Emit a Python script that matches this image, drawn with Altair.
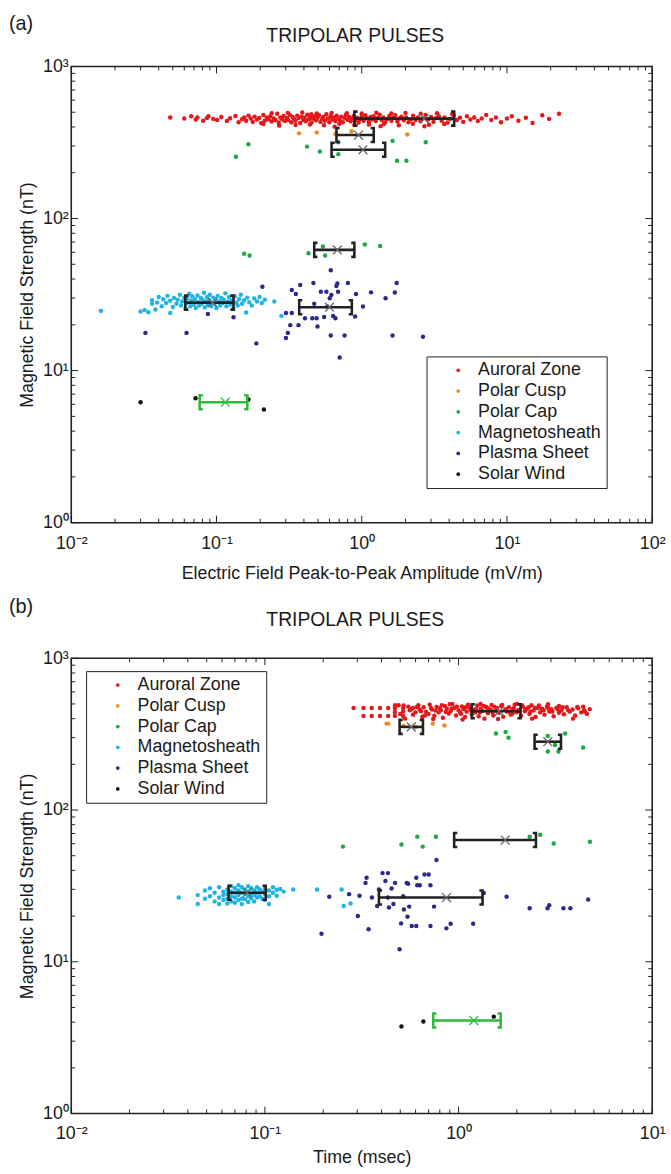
import altair as alt
import pandas as pd

REGIONS = ["Auroral Zone", "Polar Cusp", "Polar Cap", "Magnetosheath", "Plasma Sheet", "Solar Wind"]
COLORS = ["#e4171b", "#f08a24", "#1fa843", "#20b4e2", "#2b2a8c", "#111111"]

# ---------------- panel (a): E-field peak-to-peak amplitude (mV/m) vs B (nT)
A_AUR_E = [0.048,0.060,0.067,0.072,0.074,0.081,0.086,0.088,0.095,0.101,
           0.108,0.118,0.124,0.135,0.142,0.150,0.155,0.160,0.166,0.172,
           0.178,0.183,0.190,0.197,0.203,0.210,0.215,0.222,0.228,0.235,
           0.240,0.248,0.255,0.262,0.268,0.275,0.283,0.290,0.296,0.305,
           0.312,0.320,0.328,0.335,0.342,0.350,0.360,0.368,0.377,0.385,
           0.395,0.404,0.412,0.422,0.432,0.441,0.452,0.462,0.474,0.485,
           0.496,0.508,0.520,0.533,0.545,0.558,0.571,0.585,0.598,0.612,
           0.627,0.642,0.657,0.673,0.690,0.706,0.723,0.741,0.760,0.778,
           0.797,0.818,0.838,0.860,0.881,0.905,0.928,0.952,0.976,1.00,
           1.03,1.06,1.09,1.12,1.15,1.18,1.21,1.25,1.29,1.33,
           1.37,1.41,1.45,1.50,1.55,1.60,1.65,1.70,1.76,1.82,
           1.88,1.95,2.02,2.10,2.18,2.26,2.35,2.44,2.54,2.64,
           2.75,2.87,3.00,3.12,3.26,3.40,3.55,3.72,3.90,4.08,
           4.30,4.52,4.75,5.00,5.30,5.60,5.95,6.30,6.70,7.20,
           7.80,8.40,9.10,10.0,10.8,12.0,13.5,15.0,17.5,19.5,
           22.8,
           0.21,0.24,0.27,0.31,0.35,0.39,0.44,0.49,0.55,0.62,
           0.70,0.79,0.89,1.0,1.12,1.26,1.42,1.6,1.8,2.0,
           2.25,2.55,2.9,3.3,3.7,4.2,0.65,1.35,2.7,0.45]
A_AUR_B = [462,455,470,448,462,440,458,470,452,444,
           465,438,456,472,430,450,462,440,475,455,
           432,468,447,458,425,480,440,462,450,470,
           435,455,445,488,428,462,450,472,438,458,
           445,480,430,465,452,440,475,458,425,468,
           445,460,436,482,450,465,428,455,470,442,
           460,478,432,452,466,440,485,455,430,470,
           448,462,438,475,455,444,468,430,458,480,
           446,465,436,455,472,442,460,428,450,468,
           440,478,455,432,465,448,470,438,458,482,
           444,462,430,452,472,440,460,478,435,455,
           468,442,462,430,450,475,445,462,436,455,
           480,448,465,432,458,470,440,462,428,452,
           475,445,460,432,470,448,462,438,455,480,
           445,462,430,455,470,440,460,425,478,452,
           488,
           418,492,408,495,412,498,415,490,410,495,
           420,492,412,490,415,496,418,490,410,494,
           420,488,414,492,418,486,402,405,404,485]
A_CUSP_E = [0.37, 0.49, 0.66, 0.85, 2.06]
A_CUSP_B = [363, 368, 360, 375, 357]
A_CAP_E = [0.166, 0.136, 0.42, 0.515, 0.69, 0.69, 1.63, 1.75, 2.03, 2.76,
           0.155, 0.169, 0.43, 0.54, 0.56, 1.05, 1.34]
A_CAP_B = [308, 255, 297, 276, 317, 265, 324, 240, 240, 317,
           58.6, 57.1, 59.1, 65.5, 57.1, 67.5, 66.0]
A_SHEATH_E = [0.016,0.030,0.032,0.034,0.036,0.036,0.038,0.039,0.040,0.042,
              0.043,0.045,0.046,0.048,0.048,0.050,0.051,0.053,0.054,0.056,
              0.057,0.058,0.060,0.061,0.062,0.063,0.065,0.066,0.067,0.068,
              0.070,0.071,0.072,0.074,0.075,0.076,0.078,0.079,0.080,0.082,
              0.083,0.084,0.086,0.087,0.089,0.090,0.092,0.093,0.095,0.097,
              0.098,0.100,0.102,0.104,0.106,0.108,0.110,0.112,0.115,0.117,
              0.120,0.122,0.125,0.128,0.131,0.134,0.137,0.140,0.143,0.147,
              0.150,0.155,0.160,0.163,0.168,0.175,0.182,0.190,0.198,0.205,
              0.215,0.25,0.28]
A_SHEATH_B = [24.7,24.5,25.0,24.2,27.5,29.0,25.2,28.0,30.5,26.5,
              29.5,27.8,31.0,23.9,28.8,26.2,30.0,27.5,29.2,31.5,
              26.8,28.5,30.2,25.5,27.8,29.8,32.0,26.5,28.8,30.8,
              27.2,29.5,25.8,31.2,28.2,26.8,30.0,27.5,29.2,32.5,
              26.0,28.5,30.5,27.0,29.0,31.5,26.5,28.0,30.2,27.5,
              29.5,25.8,31.0,28.5,26.8,30.0,27.8,29.2,32.2,26.5,
              28.5,30.5,27.2,29.0,25.5,30.8,28.0,26.8,29.5,31.5,
              27.5,29.0,24.1,30.2,28.2,26.8,29.8,28.5,30.5,27.8,
              29.2,28.5,22.9]
A_PLASMA_E = [0.0324,0.0622,0.0873,0.131,0.207,0.188,0.301,0.310,0.330,0.322,
              0.367,0.377,0.352,0.330,0.465,0.471,0.457,0.489,0.496,0.523,
              0.551,0.571,0.580,0.602,0.612,0.618,0.635,0.659,0.669,0.680,
              0.687,0.705,0.612,0.762,0.803,0.914,0.901,1.02,1.16,1.46,
              1.63,1.69,1.74,2.64,0.301,0.407]
A_PLASMA_B = [17.7,17.7,23.6,22.4,35.6,15.1,16.4,17.7,33.9,19.9,
              19.9,36.5,31.9,23.9,37.7,27.5,22.1,22.1,19.5,33.0,
              22.5,33.0,26.4,29.9,45.7,31.4,22.9,22.1,36.0,37.4,
              33.0,12.2,17.0,17.0,37.7,31.9,22.7,26.4,32.7,29.9,
              17.0,32.6,37.7,16.7,23.9,22.1]
A_SOLAR_E = [0.030, 0.0717, 0.166, 0.212]
A_SOLAR_B = [6.2, 6.58, 6.45, 5.55]

A_BAR_REGION = ["Auroral Zone", "Polar Cusp", "Polar Cap", "Polar Cap", "Magnetosheath", "Plasma Sheet", "Solar Wind"]
A_BAR_MEAN = [2.69, 0.95, 1.02, 0.68, 0.094, 0.60, 0.115]
A_BAR_LO = [0.89, 0.67, 0.62, 0.471, 0.061, 0.371, 0.0766]
A_BAR_HI = [4.33, 1.21, 1.45, 0.89, 0.131, 0.855, 0.163]
A_BAR_B = [454, 354, 283, 62.2, 28.0, 26.1, 6.2]

# ---------------- panel (b): duration (msec) vs B (nT)
B_AUR_T = [0.287,0.323,0.323,0.356,0.356,0.393,0.393,0.433,0.433,0.469,
           0.469,0.469,0.49,0.50,0.517,0.517,0.517,0.53,0.55,0.56,
           0.582,0.582,0.60,0.62,0.63,0.65,0.66,0.68,0.70,0.71,
           0.73,0.75,0.77,0.79,0.81,0.83,0.85,0.87,0.89,0.91,
           0.93,0.95,0.97,1.0,1.02,1.04,1.06,1.08,1.1,1.12,
           1.15,1.17,1.2,1.22,1.25,1.27,1.3,1.33,1.36,1.39,
           1.42,1.45,1.48,1.51,1.55,1.58,1.62,1.66,1.7,1.74,
           1.78,1.82,1.86,1.9,1.95,2.0,2.05,2.1,2.15,2.2,
           2.26,2.32,2.38,2.44,2.5,2.57,2.64,2.71,2.78,2.86,
           2.94,3.02,3.1,3.2,3.3,3.4,3.5,3.62,3.75,3.88,
           4.0,4.15,4.3,4.45,4.6,4.76,
           0.74,0.9,1.05,1.3,1.6,2.0,2.4,2.9,0.8,1.14,
           1.5,1.9,2.3,2.7,3.3,3.9,4.4,
           0.52,0.57,0.61,0.64,0.67,0.72,0.76,0.82,0.86,0.92,
           0.98,1.03,1.09,1.16,1.23,1.29,1.35,1.41,1.47,1.53,
           1.6,1.68,1.76,1.84,1.93,2.03,2.12,2.22,2.35,2.48,
           2.6,2.75,2.9,3.05,3.25,3.45,3.68,4.1,4.5,0.47]
B_AUR_B = [470,470,417,470,417,470,417,470,417,470,
           417,443,490,430,470,417,445,400,480,455,
           470,425,440,490,460,412,475,445,430,495,
           460,418,478,440,455,405,485,465,432,448,
           500,470,420,455,438,482,462,410,445,495,
           470,428,458,440,488,415,465,450,400,478,
           435,460,492,420,452,470,438,485,412,458,
           445,475,425,462,495,440,455,418,480,448,
           465,430,490,452,410,470,440,458,425,480,
           446,462,415,470,438,455,428,475,445,460,
           420,468,440,455,430,462,
           398,498,395,500,398,500,400,498,468,472,
           442,432,475,466,485,400,480,
           488,462,478,448,420,470,452,490,442,465,
           480,430,475,452,462,440,485,470,455,480,
           445,492,462,440,470,455,490,462,445,472,
           488,455,470,445,462,475,455,478,445,490]
B_CUSP_T = [0.425, 0.433, 0.736, 0.845, 0.52, 0.60]
B_CUSP_B = [371, 371, 371, 361, 358, 352]
B_CAP_T = [1.56, 1.75, 1.81, 2.89, 3.55, 2.89, 3.28, 4.40, 3.15,
           0.253, 0.507, 0.612, 0.653, 0.764, 2.33, 2.64, 3.10, 4.77]
B_CAP_B = [319, 327, 299, 308, 319, 243, 243, 258, 268,
           57.4, 59.2, 66.7, 57.4, 66.7, 66.7, 68.7, 60.2, 61.8]
B_SHEATH_T = [0.0359,0.045,0.045,0.049,0.049,0.052,0.052,0.055,0.055,0.058,
              0.058,0.058,0.061,0.061,0.061,0.064,0.064,0.064,0.064,0.067,
              0.067,0.067,0.067,0.070,0.070,0.070,0.070,0.073,0.073,0.073,
              0.073,0.076,0.076,0.076,0.076,0.079,0.079,0.079,0.082,0.082,
              0.082,0.082,0.085,0.085,0.085,0.088,0.088,0.088,0.091,0.091,
              0.091,0.094,0.094,0.097,0.097,0.100,0.100,0.100,0.105,0.105,
              0.105,0.110,0.110,0.115,0.115,0.120,0.125,0.140,0.186,0.249,
              0.255,0.277]
B_SHEATH_B = [26.5,27.5,24.0,26.0,29.5,27.0,30.5,25.0,28.5,26.5,
              31.0,24.0,29.0,27.5,25.5,30.0,28.0,26.0,24.2,31.5,
              29.0,27.0,25.0,30.5,28.5,26.5,24.5,32.0,29.5,27.5,
              25.5,31.0,28.5,26.0,24.0,30.0,28.0,25.8,31.5,29.0,
              27.0,24.8,30.5,28.0,26.2,29.5,27.5,25.0,31.0,28.5,
              26.5,30.0,27.0,29.0,26.0,30.5,28.0,25.5,29.5,27.0,
              24.0,31.0,28.5,29.8,27.2,30.2,29.0,29.9,29.9,29.9,
              23.3,24.2]
B_PLASMA_T = [0.196,0.215,0.272,0.308,0.302,0.335,0.331,0.343,0.357,0.380,
              0.388,0.405,0.432,0.419,0.432,0.437,0.451,0.461,0.470,0.496,
              0.505,0.518,0.522,0.540,0.549,0.556,0.545,0.573,0.605,0.605,
              0.612,0.631,0.667,0.701,0.716,0.716,0.747,0.769,0.865,0.910,
              1.19,1.35,1.77,2.33,2.88,2.94,3.48,3.78,4.67]
B_PLASMA_B = [15.3,26.8,27.9,27.2,20.0,35.8,33.1,16.4,26.5,23.3,
              29.9,38.4,38.4,34.1,26.5,22.8,30.4,24.0,33.1,12.1,
              17.9,27.0,22.1,33.1,32.7,23.1,19.8,17.2,17.2,35.8,
              31.9,31.9,37.6,37.6,17.2,31.9,23.1,46.9,16.6,17.8,
              17.8,28.4,26.8,22.5,22.5,23.6,22.5,22.5,25.7]
B_SOLAR_T = [0.507, 0.658, 1.52]
B_SOLAR_B = [3.74, 4.04, 4.35]

B_BAR_REGION = A_BAR_REGION
B_BAR_MEAN = [1.62, 0.570, 2.89, 1.74, 0.081, 0.866, 1.20]
B_BAR_LO = [1.17, 0.496, 2.47, 0.949, 0.0649, 0.388, 0.74]
B_BAR_HI = [2.09, 0.655, 3.38, 2.51, 0.101, 1.33, 1.65]
B_BAR_B = [447, 353, 282, 63.4, 28.5, 26.5, 4.1]

# ---------------- helpers
FONT = "Liberation Sans"
TXT = "#1a1a1a"
W, H_A, H_B = 587, 461, 460
LEFT_BRACKET = "M0.45,-1L0,-1L0,1L0.45,1"
RIGHT_BRACKET = "M-0.45,-1L0,-1L0,1L-0.45,1"
X_MARK = "M-1,-1L1,1M1,-1L-1,1"
POW_EXPR = ("datum.value < 0.05 ? '10⁻²' : datum.value < 0.5 ? '10⁻¹' : "
            "datum.value < 5 ? '10⁰' : datum.value < 50 ? '10¹' : "
            "datum.value < 500 ? '10²' : '10³'")


def points_frame(series):
    frames = []
    for region, xs, ys in series:
        frames.append(pd.DataFrame({"x": xs, "y": ys, "region": region}))
    return pd.concat(frames, ignore_index=True)


def bars_frame(regions, mean, lo, hi, b):
    return pd.DataFrame({"region": regions, "mean": mean, "lo": lo, "hi": hi, "b": b})


def minor(decades):
    return [m * 10.0 ** k for k in decades for m in range(2, 10)]


def panel(pts, bars, xdom, xmajor, xminor, xtitle, tag, legend_xy, H, title_y, tag_y,
          xlabel_pad, xtitle_pad):
    xs = alt.Scale(type="log", domain=xdom, nice=False)
    ys = alt.Scale(type="log", domain=[1, 1000], nice=False)
    ymajor = [1, 10, 100, 1000]
    yminor = minor([0, 1, 2])
    xaxis = alt.Axis(values=xmajor, labelExpr=POW_EXPR, ticks=False, domain=False, grid=False,
                     labelFlush=False, labelOverlap=False, labelPadding=xlabel_pad, labelFontSize=18,
                     labelColor=TXT, title=xtitle, titleFontSize=18, titleFontWeight="normal",
                     titleColor=TXT, titlePadding=xtitle_pad)
    yaxis = alt.Axis(values=ymajor, labelExpr=POW_EXPR, ticks=False, domain=False, grid=False,
                     labelFlush=False, labelOverlap=False, labelPadding=3, labelFontSize=18,
                     labelColor=TXT, title="Magnetic Field Strength (nT)", titleFontSize=18,
                     titleFontWeight="normal", titleColor=TXT, titlePadding=6)

    def X(field):
        return alt.X(field, type="quantitative", scale=xs, axis=xaxis)

    def Y(field):
        return alt.Y(field, type="quantitative", scale=ys, axis=yaxis)

    legend = alt.Legend(title=None, orient="none", legendX=legend_xy[0], legendY=legend_xy[1],
                        symbolType="circle", symbolSize=14, symbolStrokeWidth=0,
                        labelFontSize=18, labelFont=FONT, labelColor=TXT,
                        strokeColor="#222", fillColor="white", padding=5, rowPadding=3,
                        symbolOffset=18, labelOffset=11, cornerRadius=0)
    scatter = alt.Chart(pts).mark_circle(size=20, opacity=1).encode(
        x=X("x"), y=Y("y"),
        color=alt.Color("region:N", scale=alt.Scale(domain=REGIONS, range=COLORS), legend=legend),
    )
    layers = [scatter]
    for cond, col in (("datum.region != 'Solar Wind'", "#222222"), ("datum.region == 'Solar Wind'", "#2dbb3c")):
        base = alt.Chart(bars).transform_filter(cond)
        layers.append(base.mark_rule(color=col, strokeWidth=2.6).encode(
            x=X("lo"), x2="hi:Q", y=Y("b")))
        layers.append(base.mark_point(shape=LEFT_BRACKET, size=200, filled=False, strokeWidth=2.6,
                                      color=col, opacity=1).encode(x=X("lo"), y=Y("b")))
        layers.append(base.mark_point(shape=RIGHT_BRACKET, size=200, filled=False, strokeWidth=2.6,
                                      color=col, opacity=1).encode(x=X("hi"), y=Y("b")))
        layers.append(base.mark_point(shape=X_MARK, size=80, filled=False, strokeWidth=1.3,
                                      color="#666666" if col == "#222222" else col, opacity=1).encode(
            x=X("mean"), y=Y("b")))
    # MATLAB-style inward ticks on all four sides
    for vals, L in ((xmajor, 7), (xminor, 4)):
        d = alt.Chart(pd.DataFrame({"x": vals})).mark_rule(color="#222", strokeWidth=1)
        layers.append(d.encode(x=X("x"), y=alt.value(H), y2=alt.value(H - L)))
        layers.append(d.encode(x=X("x"), y=alt.value(0), y2=alt.value(L)))
    for vals, L in ((ymajor, 7), (yminor, 4)):
        d = alt.Chart(pd.DataFrame({"y": vals})).mark_rule(color="#222", strokeWidth=1)
        layers.append(d.encode(y=Y("y"), x=alt.value(0), x2=alt.value(L)))
        layers.append(d.encode(y=Y("y"), x=alt.value(W), x2=alt.value(W - L)))
    layers.append(alt.Chart(pd.DataFrame({"t": ["TRIPOLAR PULSES"]})).mark_text(
        fontSize=19.5, align="center", baseline="middle", color=TXT).encode(
        text="t:N", x=alt.value(287), y=alt.value(title_y)))
    layers.append(alt.Chart(pd.DataFrame({"t": [tag]})).mark_text(
        fontSize=20, align="left", baseline="middle", color=TXT).encode(
        text="t:N", x=alt.value(-63), y=alt.value(tag_y)))
    return alt.layer(*layers).properties(width=W, height=H)


pts_a = points_frame([
    ("Auroral Zone", A_AUR_E, A_AUR_B),
    ("Polar Cusp", A_CUSP_E, A_CUSP_B),
    ("Polar Cap", A_CAP_E, A_CAP_B),
    ("Magnetosheath", A_SHEATH_E, A_SHEATH_B),
    ("Plasma Sheet", A_PLASMA_E, A_PLASMA_B),
    ("Solar Wind", A_SOLAR_E, A_SOLAR_B),
])
pts_b = points_frame([
    ("Auroral Zone", B_AUR_T, B_AUR_B),
    ("Polar Cusp", B_CUSP_T, B_CUSP_B),
    ("Polar Cap", B_CAP_T, B_CAP_B),
    ("Magnetosheath", B_SHEATH_T, B_SHEATH_B),
    ("Plasma Sheet", B_PLASMA_T, B_PLASMA_B),
    ("Solar Wind", B_SOLAR_T, B_SOLAR_B),
])
bars_a = bars_frame(A_BAR_REGION, A_BAR_MEAN, A_BAR_LO, A_BAR_HI, A_BAR_B)
bars_b = bars_frame(B_BAR_REGION, B_BAR_MEAN, B_BAR_LO, B_BAR_HI, B_BAR_B)

chart_a = panel(pts_a, bars_a, [0.01, 100], [0.01, 0.1, 1, 10, 100], minor([-2, -1, 0, 1]),
                "Electric Field Peak-to-Peak Amplitude (mV/m)", "(a)", (359, 293), H_A, -31, -43,
                12, 12)
chart_b = panel(pts_b, bars_b, [0.01, 10], [0.01, 0.1, 1, 10], minor([-2, -1, 0]),
                "Time (msec)", "(b)", (15, 13), H_B, -39, -52,
                11, 7)

chart = alt.vconcat(chart_a, chart_b, spacing=13).resolve_scale(
    color="independent"
).resolve_legend(
    color="independent"
).properties(
    padding={"left": 8, "top": 7, "right": 5, "bottom": 2}
).configure(font=FONT).configure_view(stroke="#222", strokeWidth=1.6)

chart.save("out.html", embed_options={"renderer": "svg", "actions": False})
